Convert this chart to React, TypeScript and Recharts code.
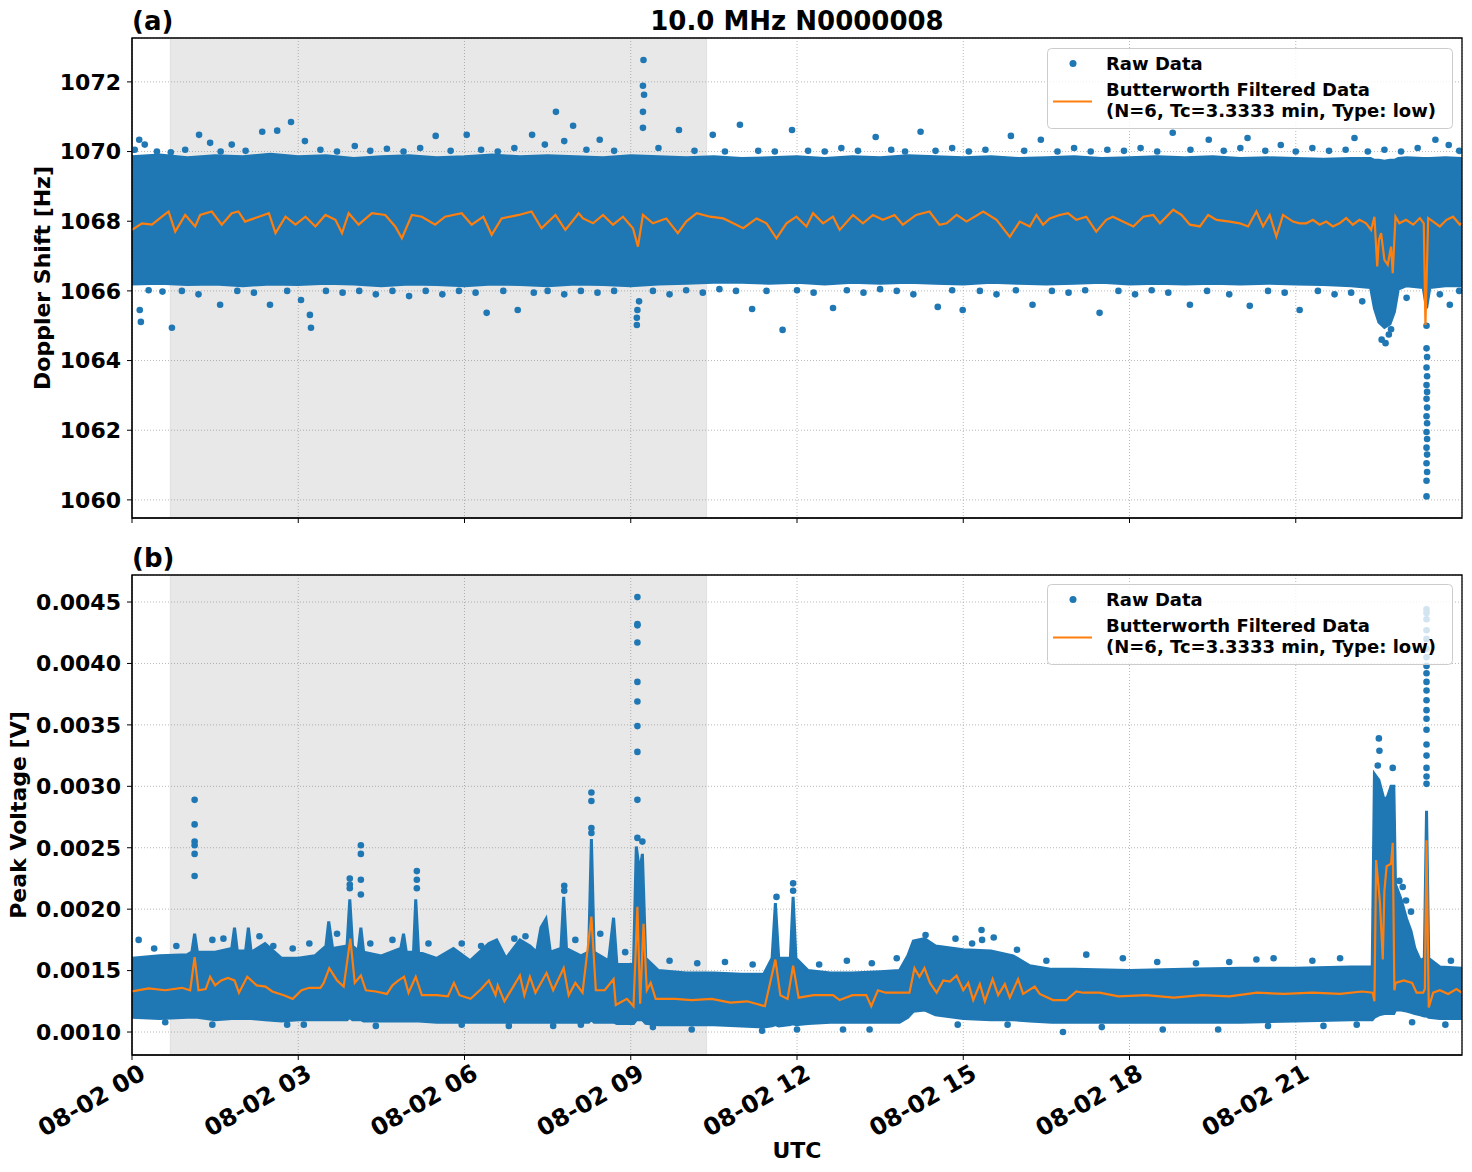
import React from 'react';
import {
  ComposedChart,
  Area,
  Line,
  Scatter,
  XAxis,
  YAxis,
  CartesianGrid,
  ReferenceArea,
} from 'recharts';

const FONT = '"DejaVu Sans", "Liberation Sans", sans-serif';
const BLUE = '#1f77b4';
const ORANGE = '#ff7f0e';

// x axis: hours of 08-02 (UTC)
const xTicks = [0, 3, 6, 9, 12, 15, 18, 21];
const shadeStart = 0.69;
const shadeEnd = 10.37;

// (a) Doppler shift
const dopplerTicks = [1060, 1062, 1064, 1066, 1068, 1070, 1072];
const dopplerDomain: [number, number] = [1059.48, 1073.26];

// [hour, low edge, high edge] of the dense raw-data band
const dopplerBand: [number, number, number][] = [
  [0, 1066.2, 1069.85], [0.5, 1066.22, 1069.9], [1, 1066.18, 1069.82], [1.5, 1066.2, 1069.88],
  [2, 1066.15, 1069.85], [2.5, 1066.2, 1069.92], [3, 1066.18, 1069.85], [3.5, 1066.22, 1069.88],
  [4, 1066.2, 1069.8], [4.5, 1066.15, 1069.85], [5, 1066.2, 1069.88], [5.5, 1066.18, 1069.82],
  [6, 1066.15, 1069.85], [6.5, 1066.2, 1069.9], [7, 1066.18, 1069.85], [7.5, 1066.15, 1069.88],
  [8, 1066.2, 1069.85], [8.5, 1066.18, 1069.82], [9, 1066.15, 1069.88], [9.5, 1066.2, 1069.85],
  [10, 1066.22, 1069.82], [10.5, 1066.25, 1069.85], [11, 1066.25, 1069.8], [11.5, 1066.22, 1069.82],
  [12, 1066.25, 1069.85], [12.5, 1066.2, 1069.8], [13, 1066.25, 1069.85], [13.5, 1066.22, 1069.82],
  [14, 1066.25, 1069.88], [14.5, 1066.22, 1069.85], [15, 1066.2, 1069.82], [15.5, 1066.25, 1069.85],
  [16, 1066.22, 1069.8], [16.5, 1066.2, 1069.82], [17, 1066.22, 1069.85], [17.5, 1066.25, 1069.8],
  [18, 1066.2, 1069.82], [18.5, 1066.22, 1069.85], [19, 1066.2, 1069.82], [19.5, 1066.22, 1069.85],
  [20, 1066.2, 1069.8], [20.5, 1066.22, 1069.82], [21, 1066.2, 1069.8], [21.5, 1066.18, 1069.78],
  [22, 1066.15, 1069.8], [22.35, 1066.1, 1069.8], [22.42, 1065.5, 1069.75], [22.5, 1065.1, 1069.75],
  [22.6, 1064.95, 1069.72], [22.7, 1065.05, 1069.75], [22.78, 1065.4, 1069.75], [22.85, 1066.05, 1069.8],
  [23.0, 1066.15, 1069.82], [23.3, 1066.1, 1069.8], [23.36, 1065.5, 1069.8], [23.42, 1066.1, 1069.8],
  [23.7, 1066.15, 1069.82], [24, 1066.15, 1069.8],
];

// [hour, Hz] Butterworth filtered
const dopplerFiltered: [number, number][] = [
  [0, 1067.75], [0.18, 1067.94], [0.36, 1067.9], [0.54, 1068.13], [0.66, 1068.28], [0.78, 1067.7],
  [0.96, 1068.18], [1.14, 1067.85], [1.23, 1068.18], [1.44, 1068.28], [1.62, 1067.9], [1.8, 1068.23],
  [1.92, 1068.28], [2.04, 1067.99], [2.29, 1068.13], [2.47, 1068.23], [2.59, 1067.66], [2.77, 1068.13],
  [2.95, 1067.9], [3.13, 1068.13], [3.31, 1067.85], [3.49, 1068.18], [3.67, 1068.04], [3.79, 1067.66],
  [3.91, 1068.23], [4.09, 1067.9], [4.33, 1068.23], [4.57, 1068.18], [4.75, 1067.85], [4.87, 1067.51],
  [5.05, 1068.18], [5.23, 1068.13], [5.47, 1067.9], [5.65, 1068.13], [5.95, 1068.23], [6.13, 1067.9],
  [6.34, 1068.13], [6.49, 1067.61], [6.67, 1068.08], [6.98, 1068.18], [7.21, 1068.28], [7.39, 1067.8],
  [7.64, 1068.18], [7.82, 1067.75], [8.06, 1068.23], [8.14, 1068.08], [8.32, 1067.94], [8.5, 1068.18],
  [8.68, 1067.9], [8.86, 1068.13], [9.04, 1067.8], [9.13, 1067.27], [9.22, 1068.18], [9.4, 1067.94],
  [9.64, 1068.08], [9.85, 1067.66], [10.0, 1067.99], [10.19, 1068.23], [10.43, 1068.13], [10.67, 1068.08],
  [10.85, 1067.94], [11.03, 1067.8], [11.27, 1068.08], [11.45, 1067.94], [11.63, 1067.51], [11.81, 1067.94],
  [11.99, 1068.13], [12.17, 1067.85], [12.29, 1068.23], [12.47, 1067.94], [12.65, 1068.13], [12.77, 1067.75],
  [13.01, 1068.18], [13.19, 1067.94], [13.37, 1068.18], [13.55, 1068.04], [13.76, 1068.18], [13.91, 1067.9],
  [14.15, 1068.18], [14.39, 1068.28], [14.57, 1067.9], [14.7, 1067.94], [14.88, 1068.18], [15.06, 1067.99],
  [15.36, 1068.28], [15.6, 1068.04], [15.84, 1067.55], [16.02, 1067.99], [16.2, 1067.85], [16.32, 1068.18],
  [16.44, 1067.9], [16.56, 1068.08], [16.74, 1068.18], [16.89, 1068.23], [17.04, 1068.04], [17.22, 1068.13],
  [17.4, 1067.7], [17.58, 1068.04], [17.7, 1068.13], [17.88, 1067.99], [18.07, 1067.85], [18.25, 1068.13],
  [18.43, 1068.18], [18.55, 1067.94], [18.79, 1068.33], [18.94, 1068.18], [19.09, 1067.9], [19.27, 1067.85],
  [19.42, 1068.18], [19.57, 1068.04], [19.81, 1067.99], [19.99, 1067.94], [20.14, 1067.85], [20.29, 1068.28],
  [20.41, 1067.85], [20.53, 1068.18], [20.65, 1067.56], [20.77, 1068.18], [20.95, 1067.99], [21.07, 1067.94],
  [21.19, 1067.94], [21.31, 1068.04], [21.43, 1067.9], [21.55, 1067.99], [21.67, 1067.85], [21.79, 1067.94],
  [21.91, 1068.09], [22.03, 1067.9], [22.15, 1068.04], [22.27, 1067.94], [22.36, 1067.75], [22.42, 1068.13],
  [22.47, 1066.7], [22.5, 1067.46], [22.54, 1067.66], [22.6, 1066.89], [22.66, 1066.75], [22.72, 1067.27],
  [22.75, 1066.51], [22.8, 1068.13], [22.87, 1067.94], [22.99, 1068.04], [23.12, 1067.9], [23.24, 1068.09],
  [23.31, 1067.94], [23.34, 1065.02], [23.39, 1068.09], [23.48, 1067.99], [23.6, 1067.85], [23.72, 1068.04],
  [23.84, 1068.13], [23.96, 1067.9], [24, 1067.95],
];

// [hour, Hz] raw points that stand out of the band
const dopplerRaw: [number, number][] = [
  [0.05, 1070.05], [0.13, 1070.34], [0.23, 1070.2], [0.45, 1070.0], [0.7, 1069.98], [0.96, 1070.05],
  [1.21, 1070.48], [1.41, 1070.25], [1.6, 1070.0], [1.8, 1070.2], [2.05, 1070.02], [2.35, 1070.57],
  [2.62, 1070.6], [2.87, 1070.85], [3.12, 1070.3], [3.4, 1070.05], [3.7, 1070.0], [4.02, 1070.16],
  [4.3, 1070.02], [4.6, 1070.08], [4.9, 1070.0], [5.2, 1070.1], [5.48, 1070.45], [5.75, 1070.02],
  [6.04, 1070.48], [6.3, 1070.05], [6.6, 1070.0], [6.9, 1070.1], [7.22, 1070.48], [7.45, 1070.2],
  [7.65, 1071.14], [7.8, 1070.3], [7.96, 1070.74], [8.2, 1070.05], [8.44, 1070.34], [8.7, 1070.02],
  [9.22, 1070.68], [9.22, 1071.14], [9.24, 1071.63], [9.22, 1071.89], [9.23, 1072.63], [9.5, 1070.1],
  [9.87, 1070.62], [10.15, 1070.02], [10.48, 1070.48], [10.7, 1070.0], [10.97, 1070.77], [11.3, 1070.02],
  [11.6, 1070.0], [11.91, 1070.62], [12.2, 1070.02], [12.5, 1070.0], [12.8, 1070.1], [13.1, 1070.02],
  [13.42, 1070.42], [13.7, 1070.05], [13.95, 1070.0], [14.23, 1070.57], [14.5, 1070.02], [14.8, 1070.1],
  [15.1, 1070.0], [15.4, 1070.05], [15.86, 1070.45], [16.1, 1070.02], [16.4, 1070.34], [16.7, 1070.0],
  [17.0, 1070.1], [17.3, 1070.0], [17.6, 1070.05], [17.9, 1070.02], [18.2, 1070.1], [18.5, 1070.0],
  [18.78, 1070.54], [19.1, 1070.05], [19.43, 1070.34], [19.7, 1070.02], [20.0, 1070.1], [20.13, 1070.39],
  [20.45, 1070.02], [20.73, 1070.19], [21.0, 1070.0], [21.3, 1070.1], [21.6, 1070.02], [21.9, 1070.05],
  [22.06, 1070.39], [22.3, 1070.0], [22.6, 1070.05], [22.9, 1070.0], [23.2, 1070.1], [23.52, 1070.34],
  [23.76, 1070.19], [23.95, 1070.02],
  [0.14, 1065.45], [0.16, 1065.11], [0.3, 1066.02], [0.55, 1065.98], [0.72, 1064.94], [0.9, 1066.0],
  [1.2, 1065.9], [1.59, 1065.6], [1.9, 1066.0], [2.2, 1065.95], [2.49, 1065.6], [2.8, 1066.0],
  [3.05, 1065.74], [3.21, 1065.31], [3.23, 1064.94], [3.5, 1066.0], [3.8, 1065.95], [4.1, 1066.0],
  [4.4, 1065.9], [4.7, 1066.0], [5.0, 1065.85], [5.3, 1066.0], [5.6, 1065.9], [5.9, 1066.0],
  [6.2, 1065.95], [6.4, 1065.37], [6.7, 1066.0], [6.96, 1065.45], [7.25, 1065.95], [7.5, 1066.0],
  [7.8, 1065.9], [8.1, 1066.0], [8.4, 1065.95], [8.7, 1066.0], [9.11, 1065.02], [9.11, 1065.23],
  [9.12, 1065.45], [9.15, 1065.7], [9.4, 1066.0], [9.7, 1065.9], [10.0, 1066.02], [10.3, 1065.95],
  [10.6, 1066.05], [10.9, 1066.0], [11.19, 1065.48], [11.45, 1066.0], [11.74, 1064.88], [12.0, 1066.02],
  [12.3, 1065.95], [12.65, 1065.51], [12.9, 1066.02], [13.2, 1065.95], [13.5, 1066.05], [13.8, 1066.0],
  [14.1, 1065.9], [14.54, 1065.54], [14.8, 1066.02], [14.99, 1065.45], [15.3, 1066.0], [15.6, 1065.9],
  [15.95, 1066.02], [16.25, 1065.6], [16.6, 1066.0], [16.9, 1065.95], [17.2, 1066.02], [17.46, 1065.37],
  [17.8, 1066.0], [18.1, 1065.9], [18.4, 1066.02], [18.7, 1065.95], [19.09, 1065.6], [19.4, 1066.0],
  [19.8, 1065.9], [20.17, 1065.57], [20.5, 1066.0], [20.8, 1065.95], [21.07, 1065.45], [21.4, 1066.0],
  [21.7, 1065.9], [22.0, 1065.95], [22.2, 1065.7], [22.55, 1064.6], [22.62, 1064.5], [22.68, 1064.75],
  [22.72, 1064.9], [23.0, 1065.8], [23.6, 1065.9], [23.78, 1065.6], [23.95, 1066.0],
  [23.36, 1065.0], [23.36, 1064.35], [23.37, 1064.1], [23.36, 1063.8], [23.37, 1063.55], [23.36, 1063.3],
  [23.37, 1063.1], [23.36, 1062.9], [23.37, 1062.65], [23.36, 1062.4], [23.37, 1062.2], [23.36, 1061.95],
  [23.37, 1061.75], [23.36, 1061.5], [23.37, 1061.3], [23.36, 1061.05], [23.37, 1060.8], [23.36, 1060.55],
  [23.36, 1060.1],
];

// (b) Peak voltage
const voltTicks = [0.001, 0.0015, 0.002, 0.0025, 0.003, 0.0035, 0.004, 0.0045];
const voltDomain: [number, number] = [0.000813, 0.00472];

const voltBand: [number, number, number][] = [
  [0, 0.00112, 0.0016], [0.5, 0.00111, 0.00162], [1.0, 0.00112, 0.00163], [1.08, 0.00112, 0.00165],
  [1.13, 0.00112, 0.0018], [1.18, 0.00112, 0.00165], [1.5, 0.0011, 0.00165], [1.8, 0.00111, 0.00168],
  [1.85, 0.00111, 0.00185], [1.9, 0.00111, 0.00166], [2.05, 0.00111, 0.00166], [2.1, 0.00111, 0.00185],
  [2.15, 0.00111, 0.00165], [2.4, 0.0011, 0.00172], [2.7, 0.00109, 0.0016], [3.0, 0.0011, 0.0016],
  [3.3, 0.0011, 0.00162], [3.5, 0.0011, 0.0017], [3.55, 0.0011, 0.0019], [3.62, 0.0011, 0.00168],
  [3.88, 0.0011, 0.0017], [3.93, 0.00112, 0.00208], [3.98, 0.0011, 0.0017], [4.08, 0.0011, 0.00166],
  [4.13, 0.0011, 0.00185], [4.18, 0.00109, 0.00165], [4.5, 0.00109, 0.00162], [4.85, 0.00109, 0.00168],
  [4.9, 0.00109, 0.0018], [4.95, 0.00109, 0.00165], [5.08, 0.00109, 0.00165], [5.12, 0.00109, 0.00208],
  [5.17, 0.00109, 0.00165], [5.5, 0.00108, 0.0016], [5.8, 0.00108, 0.00168], [6.1, 0.00108, 0.00158],
  [6.44, 0.00108, 0.00172], [6.58, 0.00108, 0.00175], [6.75, 0.00108, 0.0016], [7.0, 0.00108, 0.00175],
  [7.18, 0.00108, 0.0017], [7.3, 0.00108, 0.00165], [7.38, 0.00108, 0.00185], [7.47, 0.00108, 0.00192],
  [7.55, 0.00108, 0.00165], [7.74, 0.00108, 0.00168], [7.79, 0.00108, 0.0021], [7.84, 0.00108, 0.00168],
  [8.1, 0.00108, 0.00162], [8.24, 0.00108, 0.00165], [8.29, 0.0011, 0.00257], [8.34, 0.00108, 0.00165],
  [8.6, 0.00108, 0.00158], [8.69, 0.00108, 0.00193], [8.75, 0.00107, 0.00155], [9.05, 0.00107, 0.00155],
  [9.1, 0.0011, 0.00251], [9.16, 0.0011, 0.0023], [9.21, 0.0011, 0.00245], [9.27, 0.00107, 0.0016],
  [9.5, 0.00106, 0.0015], [10.0, 0.00106, 0.00148], [10.5, 0.00106, 0.00148], [11.0, 0.00105, 0.00147],
  [11.4, 0.00104, 0.00147], [11.55, 0.00105, 0.0016], [11.61, 0.00106, 0.00205], [11.67, 0.00105, 0.0016],
  [11.88, 0.00106, 0.0016], [11.93, 0.00107, 0.0021], [11.98, 0.00106, 0.0016], [12.2, 0.00107, 0.0015],
  [12.6, 0.00108, 0.00148], [13.0, 0.00108, 0.00148], [13.5, 0.00108, 0.00149], [13.85, 0.00108, 0.0015],
  [14.0, 0.00112, 0.00162], [14.1, 0.00117, 0.00174], [14.3, 0.00118, 0.00176], [14.5, 0.00114, 0.0017],
  [15.0, 0.00111, 0.00167], [15.5, 0.0011, 0.00166], [15.9, 0.0011, 0.00162], [16.2, 0.00109, 0.00154],
  [16.6, 0.00108, 0.00151], [17.0, 0.00108, 0.00151], [18.0, 0.00108, 0.0015], [19.0, 0.00108, 0.00151],
  [20.0, 0.00108, 0.00152], [21.0, 0.00109, 0.00152], [22.0, 0.0011, 0.00153], [22.38, 0.0011, 0.00153],
  [22.42, 0.00112, 0.0031], [22.5, 0.00114, 0.00305], [22.6, 0.00115, 0.00288], [22.66, 0.00115, 0.00292],
  [22.72, 0.00115, 0.003], [22.77, 0.00115, 0.003], [22.8, 0.00118, 0.0022], [22.9, 0.00118, 0.00208],
  [23.0, 0.00117, 0.00192], [23.08, 0.00116, 0.00182], [23.15, 0.00115, 0.00168], [23.25, 0.00114, 0.00158],
  [23.32, 0.00113, 0.0016], [23.36, 0.00113, 0.0028], [23.4, 0.00112, 0.0016], [23.6, 0.00111, 0.00153],
  [24, 0.00111, 0.00152],
];

const voltFiltered: [number, number][] = [
  [0, 0.00133], [0.3, 0.001355], [0.6, 0.00134], [0.9, 0.00136], [1.05, 0.00134], [1.13, 0.00161],
  [1.2, 0.00134], [1.33, 0.00135], [1.41, 0.00145], [1.5, 0.00138], [1.61, 0.00142], [1.73, 0.00144],
  [1.85, 0.00142], [1.93, 0.00132], [2.08, 0.00145], [2.25, 0.00138], [2.41, 0.00137], [2.53, 0.00133],
  [2.74, 0.0013], [2.9, 0.00127], [3.06, 0.00134], [3.2, 0.00136], [3.4, 0.00136], [3.46, 0.0014],
  [3.56, 0.00152], [3.7, 0.00142], [3.82, 0.00137], [3.94, 0.00176], [4.02, 0.0014], [4.13, 0.00146],
  [4.22, 0.00134], [4.4, 0.00133], [4.6, 0.00131], [4.7, 0.00138], [4.81, 0.00142], [4.91, 0.00145],
  [4.99, 0.00132], [5.12, 0.00145], [5.23, 0.0013], [5.5, 0.0013], [5.7, 0.00129], [5.81, 0.0014],
  [5.91, 0.0013], [6.11, 0.00127], [6.3, 0.00135], [6.44, 0.00142], [6.56, 0.0013], [6.6, 0.00138],
  [6.72, 0.00125], [6.88, 0.00137], [7.0, 0.00146], [7.08, 0.0013], [7.18, 0.00145], [7.28, 0.00132],
  [7.48, 0.00148], [7.6, 0.00134], [7.79, 0.00152], [7.88, 0.0013], [8.0, 0.0014], [8.13, 0.00132],
  [8.29, 0.00194], [8.37, 0.00134], [8.53, 0.00134], [8.69, 0.00143], [8.73, 0.00122], [8.93, 0.00127],
  [9.05, 0.00121], [9.12, 0.00202], [9.17, 0.00123], [9.23, 0.00188], [9.29, 0.00134], [9.36, 0.0014],
  [9.45, 0.00127], [9.8, 0.00127], [10.1, 0.00126], [10.46, 0.00127], [10.8, 0.00124], [11.1, 0.00125],
  [11.26, 0.00123], [11.42, 0.00121], [11.61, 0.00159], [11.7, 0.0013], [11.83, 0.00127], [11.93, 0.00154],
  [12.03, 0.00128], [12.3, 0.0013], [12.65, 0.0013], [12.77, 0.00126], [13.0, 0.0013], [13.25, 0.0013],
  [13.34, 0.00121], [13.46, 0.00134], [13.6, 0.00132], [13.97, 0.00132], [14.03, 0.00132], [14.12, 0.00152],
  [14.21, 0.00145], [14.3, 0.00152], [14.4, 0.0014], [14.52, 0.00132], [14.64, 0.00142], [14.76, 0.00141],
  [14.88, 0.00146], [15.0, 0.00134], [15.09, 0.0014], [15.18, 0.00126], [15.3, 0.00139], [15.39, 0.00125],
  [15.53, 0.00143], [15.63, 0.0013], [15.75, 0.00139], [15.84, 0.00128], [15.99, 0.00143], [16.08, 0.00131],
  [16.29, 0.00137], [16.38, 0.00131], [16.62, 0.00126], [16.86, 0.00126], [17.04, 0.00133], [17.16, 0.00132],
  [17.46, 0.00132], [17.8, 0.00129], [18.3, 0.0013], [18.8, 0.00128], [19.3, 0.0013], [19.8, 0.00129],
  [20.3, 0.00132], [20.8, 0.00131], [21.3, 0.00132], [21.8, 0.00131], [22.2, 0.00133], [22.39, 0.00132],
  [22.42, 0.00125], [22.45, 0.0024], [22.49, 0.0022], [22.52, 0.00205], [22.57, 0.00159], [22.6, 0.00215],
  [22.64, 0.00235], [22.72, 0.00237], [22.75, 0.00254], [22.78, 0.00134], [22.8, 0.0014], [22.95, 0.00142],
  [23.1, 0.0014], [23.18, 0.00132], [23.3, 0.00132], [23.33, 0.00135], [23.36, 0.00256], [23.4, 0.0012],
  [23.48, 0.00132], [23.6, 0.00134], [23.75, 0.00131], [23.9, 0.00135], [24, 0.00132],
];

const voltRaw: [number, number][] = [
  [0.12, 0.00175], [0.4, 0.00168], [0.8, 0.0017], [1.45, 0.00175], [1.65, 0.00176], [2.3, 0.00178],
  [2.55, 0.0017], [2.9, 0.00168], [3.2, 0.00172], [3.7, 0.0018], [4.3, 0.00172], [4.7, 0.00175],
  [5.35, 0.00172], [5.95, 0.00172], [6.3, 0.0017], [6.9, 0.00176], [7.1, 0.00178], [8.0, 0.00175],
  [8.45, 0.0018], [8.9, 0.00165], [9.7, 0.00158], [10.2, 0.00156], [10.7, 0.00157], [11.2, 0.00155],
  [12.4, 0.00155], [12.9, 0.00158], [13.35, 0.00156], [13.8, 0.0016], [14.32, 0.00179], [14.86, 0.00176],
  [15.16, 0.00172], [15.33, 0.00183], [15.34, 0.00175], [15.55, 0.00177], [15.97, 0.00167], [16.5, 0.00158],
  [17.22, 0.00163], [17.88, 0.0016], [18.5, 0.00157], [19.2, 0.00156], [19.8, 0.00157], [20.29, 0.00159],
  [20.6, 0.0016], [21.3, 0.00158], [21.8, 0.0016], [23.8, 0.00158],
  [0.6, 0.00108], [1.45, 0.00106], [2.8, 0.00106], [3.1, 0.00106], [4.4, 0.00105], [5.95, 0.00106],
  [6.8, 0.00105], [7.6, 0.00105], [8.1, 0.00106], [9.4, 0.00104], [10.1, 0.00102], [11.37, 0.00101],
  [12.0, 0.00102], [12.83, 0.00102], [13.31, 0.00102], [14.9, 0.00106], [15.8, 0.00106], [16.8, 0.001],
  [17.5, 0.00104], [18.6, 0.00102], [19.6, 0.00102], [20.5, 0.00105], [21.5, 0.00105], [22.1, 0.00106],
  [23.1, 0.00108], [23.7, 0.00106],
  [1.13, 0.00289], [1.13, 0.00269], [1.13, 0.00255], [1.13, 0.00252], [1.13, 0.00245], [1.13, 0.00227],
  [3.93, 0.00225], [3.93, 0.0022], [3.93, 0.00217], [4.13, 0.00252], [4.13, 0.00245], [4.13, 0.00224],
  [4.13, 0.00212], [5.14, 0.00231], [5.14, 0.00224], [5.14, 0.00217], [7.8, 0.00219], [7.8, 0.00215],
  [8.29, 0.00295], [8.29, 0.00288], [8.29, 0.00266], [8.29, 0.00262],
  [9.12, 0.00454], [9.12, 0.00432], [9.12, 0.00431], [9.12, 0.00417], [9.12, 0.00385], [9.12, 0.00369],
  [9.12, 0.00349], [9.12, 0.00328], [9.12, 0.00289], [9.12, 0.00258], [9.21, 0.00255],
  [11.63, 0.0021], [11.93, 0.00221], [11.93, 0.00215],
  [22.5, 0.00339], [22.51, 0.00329], [22.48, 0.00317], [22.75, 0.00315],
  [22.87, 0.00223], [22.93, 0.00218], [22.99, 0.00207], [23.08, 0.00198],
  [23.36, 0.00444], [23.36, 0.00441], [23.36, 0.00436], [23.36, 0.00427], [23.36, 0.0042], [23.36, 0.00412],
  [23.36, 0.00405], [23.36, 0.00398], [23.36, 0.00392], [23.36, 0.00385], [23.36, 0.00378], [23.36, 0.0037],
  [23.36, 0.00362], [23.36, 0.00355], [23.36, 0.00346], [23.36, 0.00334], [23.36, 0.00325], [23.36, 0.00315],
  [23.36, 0.00308], [23.36, 0.00302],
];

const hourLabel = (h: number) => `08-02 ${String(h).padStart(2, '0')}`;

const tickStyle = { fontSize: 22, fontWeight: 'bold', fill: '#000', fontFamily: FONT };
const dateTickStyle = { ...tickStyle, fontSize: 24 };

const DateTick = (props: any) => {
  const { x, y, payload } = props;
  const ax = x + 15;
  const ay = y + 16;
  return (
    <text
      x={ax}
      y={ay}
      transform={`rotate(-30 ${ax} ${ay})`}
      textAnchor="end"
      style={dateTickStyle}
    >
      {hourLabel(payload.value)}
    </text>
  );
};

const NoTick = () => <g />;

const RawDot = (props: any) => <circle cx={props.cx} cy={props.cy} r={3.3} fill={BLUE} />;

interface PanelProps {
  top: number;
  height: number;
  xAxisHeight: number;
  band: [number, number, number][];
  filtered: [number, number][];
  raw: [number, number][];
  domain: [number, number];
  ticks: number[];
  fmt: (v: number) => string;
  showDates: boolean;
}

const Panel = ({ top, height, xAxisHeight, band, filtered, raw, domain, ticks, fmt, showDates }: PanelProps) => {
  const bandData = band.map(([t, lo, hi]) => ({ t, range: [lo, hi] }));
  const lineData = filtered.map(([t, v]) => ({ t, v }));
  const rawData = raw.map(([t, v]) => ({ t, v }));
  return (
    <div style={{ position: 'absolute', left: 0, top }}>
      <ComposedChart width={1472} height={height} margin={{ top: 38, right: 10, bottom: 17, left: 0 }}>
        <CartesianGrid stroke="#b0b0b0" strokeDasharray="1 2" strokeWidth={0.9} />
        <ReferenceArea
          x1={shadeStart}
          x2={shadeEnd}
          y1={domain[0]}
          y2={domain[1]}
          fill="#808080"
          fillOpacity={0.18}
          stroke="#808080"
          strokeOpacity={0.15}
          zIndex={-50}
        />
        <XAxis
          type="number"
          dataKey="t"
          domain={[0, 24]}
          ticks={xTicks}
          interval={0}
          allowDataOverflow
          height={xAxisHeight}
          tickSize={5}
          stroke="#000"
          tick={showDates ? DateTick : NoTick}
        />
        <YAxis
          type="number"
          domain={domain}
          ticks={ticks}
          interval={0}
          allowDataOverflow
          width={132}
          tickSize={5}
          tickMargin={6}
          stroke="#000"
          tickFormatter={fmt}
          tick={tickStyle}
        />
        <Area
          data={bandData}
          dataKey="range"
          type="linear"
          fill={BLUE}
          fillOpacity={1}
          stroke={BLUE}
          strokeWidth={3}
          isAnimationActive={false}
        />
        <Scatter data={rawData} dataKey="v" shape={RawDot} isAnimationActive={false} />
        <Line
          data={lineData}
          dataKey="v"
          type="linear"
          stroke={ORANGE}
          strokeWidth={2.2}
          dot={false}
          isAnimationActive={false}
          zIndex={700}
        />
        <ReferenceArea
          x1={0}
          x2={24}
          y1={domain[0]}
          y2={domain[1]}
          fill="none"
          stroke="#000"
          strokeWidth={1.3}
          zIndex={800}
        />
      </ComposedChart>
    </div>
  );
};

const legendText = { fontSize: 18, fontWeight: 'bold', fontFamily: FONT } as const;

const LegendBox = ({ y }: { y: number }) => (
  <g transform={`translate(0 ${y})`}>
    <rect x={1047.5} y={48.5} width={405} height={80} rx={4} fill="#fff" fillOpacity={0.8} stroke="#cccccc" />
    <circle cx={1073} cy={63.5} r={3.5} fill={BLUE} />
    <text x={1106} y={69.5} style={legendText}>Raw Data</text>
    <line x1={1053} y1={101.5} x2={1092} y2={101.5} stroke={ORANGE} strokeWidth={2} />
    <text x={1106} y={96} style={legendText}>Butterworth Filtered Data</text>
    <text x={1106} y={117} style={legendText}>(N=6, Tc=3.3333 min, Type: low)</text>
  </g>
);

const labelStyle = { fontSize: 22, fontWeight: 'bold', fontFamily: FONT, fill: '#000' } as const;
const titleStyle = { fontSize: 26, fontWeight: 'bold', fontFamily: FONT, fill: '#000' } as const;

export default function App() {
  return (
    <div style={{ position: 'absolute', left: 0, top: 0, width: 1472, height: 1172, background: '#fff' }}>
      <Panel
        top={0}
        height={545}
        xAxisHeight={10}
        band={dopplerBand}
        filtered={dopplerFiltered}
        raw={dopplerRaw}
        domain={dopplerDomain}
        ticks={dopplerTicks}
        fmt={(v) => String(v)}
        showDates={false}
      />
      <Panel
        top={537}
        height={635}
        xAxisHeight={100}
        band={voltBand}
        filtered={voltFiltered}
        raw={voltRaw}
        domain={voltDomain}
        ticks={voltTicks}
        fmt={(v) => v.toFixed(4)}
        showDates
      />
      <svg
        width={1472}
        height={1172}
        style={{ position: 'absolute', left: 0, top: 0, pointerEvents: 'none' }}
      >
        <text x={132} y={30} style={titleStyle}>(a)</text>
        <text x={797} y={30} textAnchor="middle" style={titleStyle}>10.0 MHz N0000008</text>
        <text x={132} y={567} style={titleStyle}>(b)</text>
        <text x={50} y={278} textAnchor="middle" transform="rotate(-90 50 278)" style={labelStyle}>
          Doppler Shift [Hz]
        </text>
        <text x={26} y={815} textAnchor="middle" transform="rotate(-90 26 815)" style={labelStyle}>
          Peak Voltage [V]
        </text>
        <text x={797} y={1158} textAnchor="middle" style={labelStyle}>UTC</text>
        <LegendBox y={0} />
        <LegendBox y={536} />
      </svg>
    </div>
  );
}
